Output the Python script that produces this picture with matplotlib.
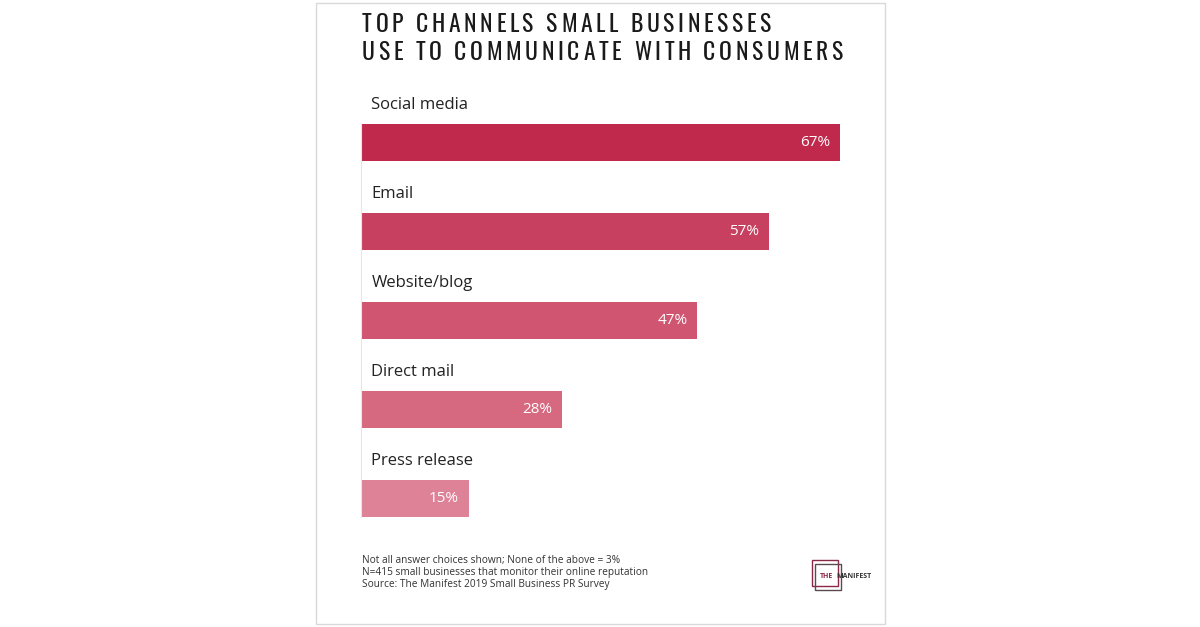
import matplotlib.pyplot as plt
from matplotlib.patches import Rectangle
import matplotlib.font_manager as fm

channels = ['Social media', 'Email', 'Website/blog', 'Direct mail', 'Press release']
shares = [67, 57, 47, 28, 15]
bar_colors = ['#C0294B', '#C84060', '#CF5571', '#D6687F', '#DE8297']
title_lines = ['TOP CHANNELS SMALL BUSINESSES', 'USE TO COMMUNICATE WITH CONSUMERS']
notes = ['Not all answer choices shown; None of the above = 3%',
         'N=415 small businesses that monitor their online reputation',
         'Source: The Manifest 2019 Small Business PR Survey']

W, H = 1200, 627
fig = plt.figure(figsize=(12, 6.27), dpi=100)
fig.patch.set_facecolor('white')

def fx(px):
    return px / W

def fy(py):
    return 1 - py / H

# card frame
fig.patches.append(Rectangle((fx(316), fy(624)), fx(885) - fx(316), fy(3) - fy(624),
                             transform=fig.transFigure, fill=False,
                             edgecolor='#d9d9d9', linewidth=1))

# pick the narrowest installed family for the title
installed = {f.name for f in fm.fontManager.ttflist}
title_font = 'DejaVu Sans'
for cand in ['Oswald', 'Roboto Condensed', 'Liberation Sans Narrow', 'Open Sans Condensed',
             'DejaVu Sans Condensed', 'Roboto']:
    if cand in installed:
        title_font = cand
        break

# title with wide letter spacing, drawn character by character
renderer = fig.canvas.get_renderer()
def char_width(ch):
    if ch == ' ':
        return 5.0
    t = fig.text(0, 0, ch, fontsize=17, family=title_font)
    w = t.get_window_extent(renderer).width
    t.remove()
    return w

natural = sum(char_width(c) for c in title_lines[1])
tracking = (481 - natural) / (len(title_lines[1]) - 1)
for line, ypx in zip(title_lines, [22, 50]):
    x = 362
    for ch in line:
        fig.text(fx(x), fy(ypx), ch, fontsize=17, family=title_font,
                 color='#1a1a1a', va='center_baseline', ha='left')
        x += char_width(ch) + tracking

# bar chart
ax = fig.add_axes([fx(362), fy(530), fx(840) - fx(362), fy(90) - fy(530)])
pos = list(range(len(channels)))
ax.barh(pos, shares, height=0.416, color=bar_colors, edgecolor='none')
ax.set_xlim(0, max(shares))
ax.set_ylim(4.354, -0.59)
for p, name, v in zip(pos, channels, shares):
    ax.text(1.3, p - 0.42, name, fontsize=12, family='Open Sans',
            color='#222222', va='center', ha='left')
    ax.text(v - 1.4, p, f'{v}%', fontsize=11, family='Open Sans',
            color='white', va='center', ha='right')
ax.axis('off')

# faint guide line at the left edge
fig.lines.append(plt.Line2D([fx(361), fx(361)], [fy(124), fy(517)],
                            transform=fig.transFigure, color='#e6e6e6', linewidth=0.8))

# footnotes
for i, n in enumerate(notes):
    fig.text(fx(362), fy(561 + 12 * i), n, fontsize=7.3, family='Open Sans',
             color='#333333', va='center', ha='left')

# logo
fig.patches.append(Rectangle((fx(812), fy(586)), fx(26) - fx(0), fy(0) - fy(26),
                             transform=fig.transFigure, fill=False,
                             edgecolor='#8a2846', linewidth=1))
fig.patches.append(Rectangle((fx(815), fy(590)), fx(26) - fx(0), fy(0) - fy(26),
                             transform=fig.transFigure, fill=False,
                             edgecolor='#5a4a52', linewidth=1))
fig.text(fx(820), fy(576), 'THE', fontsize=5, family='Open Sans', weight='bold',
         color='#8a2846', va='center', ha='left')
fig.text(fx(836), fy(576), 'MANIFEST', fontsize=5, family='Open Sans', weight='bold',
         color='#333333', va='center', ha='left')

fig.savefig('out.png', dpi=100, facecolor='white')
